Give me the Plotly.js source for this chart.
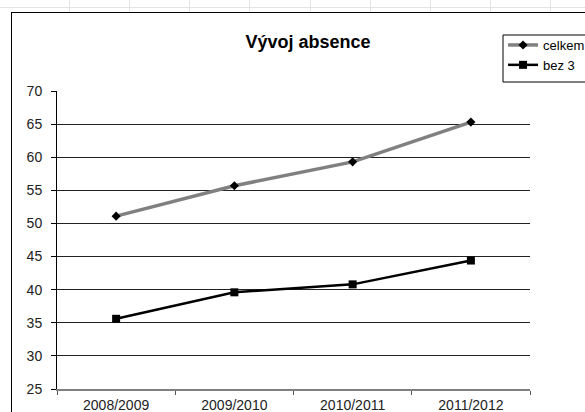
<!DOCTYPE html>
<html>
<head>
<meta charset="utf-8">
<script src="https://cdn.plot.ly/plotly-3.0.1.min.js"></script>
<style>
html,body{margin:0;padding:0;background:#fff;}
#wrap{position:relative;width:585px;height:412px;overflow:hidden;background:#fff;}
#sheet{position:absolute;left:0;top:0;width:585px;height:12px;}
#frame{position:absolute;left:11px;top:12px;width:700px;height:500px;border-left:1px solid #000;border-top:1px solid #000;}
#chart{position:absolute;left:0;top:0;width:585px;height:412px;}
</style>
</head>
<body>
<div id="wrap">
  <div id="sheet"></div>
  <div id="frame"></div>
  <div id="chart"></div>
</div>
<script>
// Data
var categories = ["2008/2009", "2009/2010", "2010/2011", "2011/2012"];
var celkem = [51.1, 55.7, 59.3, 65.3];
var bez3 = [35.6, 39.6, 40.8, 44.4];
var seriesNames = ["celkem", "bez 3"];
var chartTitle = "Vývoj absence";

// spreadsheet background strip (decoration)
(function(){
  var sheet = document.getElementById('sheet');
  var h = document.createElement('div');
  h.style.cssText = 'position:absolute;left:0;top:7px;width:585px;height:1px;background:#e3e3e3;';
  sheet.appendChild(h);
  var cols = [69, 129, 189, 249, 310, 370, 430, 490, 550];
  cols.forEach(function(c){
    var v = document.createElement('div');
    v.style.cssText = 'position:absolute;top:0;left:' + c + 'px;width:1px;height:12px;background:#e3e3e3;';
    sheet.appendChild(v);
  });
})();

var FONT = "Arial, 'Liberation Sans', sans-serif";

var traces = [
  {
    x: categories, y: celkem, name: seriesNames[0], type: 'scatter', mode: 'lines+markers',
    line: {color: '#808080', width: 3.5},
    marker: {symbol: 'diamond', size: 7, color: '#000'},
    legendgroup: 'a'
  },
  {
    x: categories, y: bez3, name: seriesNames[1], type: 'scatter', mode: 'lines+markers',
    line: {color: '#000', width: 2.5},
    marker: {symbol: 'square', size: 8, color: '#000'},
    legendgroup: 'b'
  }
];

var layout = {
  width: 585, height: 412,
  margin: {l: 57, r: 55, t: 91, b: 23, autoexpand: false},
  paper_bgcolor: 'rgba(0,0,0,0)',
  plot_bgcolor: 'rgba(0,0,0,0)',
  font: {family: FONT, color: '#000'},
  title: {
    text: '<b>' + chartTitle + '</b>',
    font: {family: FONT, size: 18, color: '#000'},
    xref: 'container', x: 0.5265, xanchor: 'center',
    yref: 'container', y: 1 - 42/412, yanchor: 'middle'
  },
  xaxis: {
    type: 'category', range: [-0.5, 3.5],
    showline: true, linecolor: '#808080', linewidth: 2,
    ticks: 'outside', tickson: 'boundaries', ticklen: 4, tickcolor: '#555', tickwidth: 1,
    showgrid: false, zeroline: false,
    tickfont: {family: FONT, size: 14, color: '#222'},
    ticklabelstandoff: 2
  },
  yaxis: {
    range: [25, 70], tick0: 25, dtick: 5,
    showline: true, linecolor: '#000', linewidth: 1,
    ticks: 'outside', ticklen: 5, tickcolor: '#000', tickwidth: 1,
    showgrid: true, gridcolor: '#222', gridwidth: 1, zeroline: false,
    tickfont: {family: FONT, size: 14, color: '#222'},
    ticklabelstandoff: 6
  },
  shapes: [
    {type: 'rect', xref: 'paper', yref: 'paper',
     x0: (503 - 57) / 473, x1: (600 - 57) / 473,
     y0: 1 + (91 - 82) / 298, y1: 1 + (91 - 35) / 298,
     line: {color: '#000', width: 1}, fillcolor: '#fff', layer: 'below'}
  ],
  showlegend: true,
  legend: {
    x: 0.943, y: 1 + (91 - 30) / 298, xanchor: 'left', yanchor: 'top',
    borderwidth: 0, bgcolor: 'rgba(0,0,0,0)',
    font: {family: FONT, size: 13, color: '#000'},
    traceorder: 'normal', tracegroupgap: 7
  }
};

Plotly.newPlot('chart', traces, layout, {displayModeBar: false, staticPlot: true});
</script>
</body>
</html>
